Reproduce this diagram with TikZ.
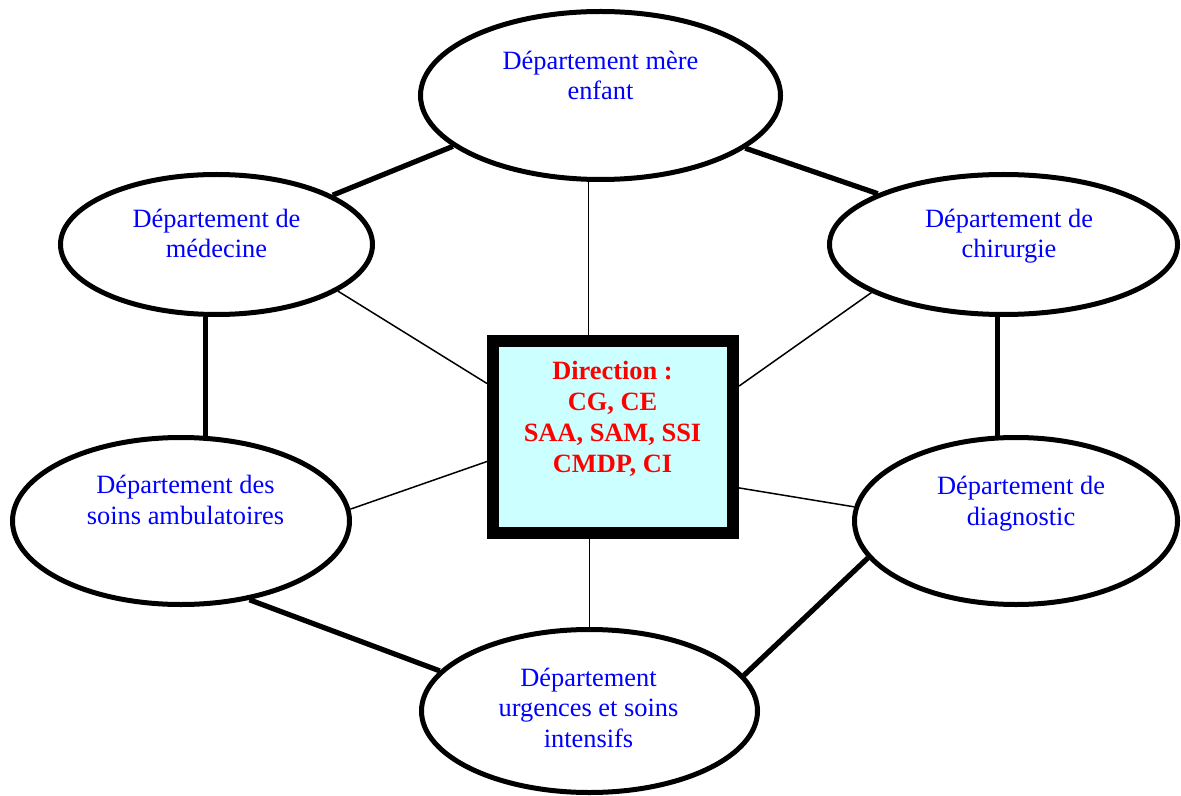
\documentclass[tikz,border=0pt]{standalone}
\usepackage{fontspec}
\setmainfont{Liberation Serif}
\usetikzlibrary{shapes.geometric}
\definecolor{boxfill}{HTML}{CCFFFF}
\definecolor{deptblue}{HTML}{0000FF}
\definecolor{dirred}{HTML}{FF0000}
\begin{document}
\begin{tikzpicture}[x=0.5pt,y=-0.5pt,
  dept/.style={ellipse,draw,line width=2.5pt,inner sep=0pt},
  depttext/.style={align=center,anchor=base,text=deptblue,inner sep=0pt,
    font=\fontsize{13.2}{15.2}\selectfont},
  dirbox/.style={rectangle,draw,line width=6pt,fill=boxfill,inner sep=0pt,
    minimum width=120pt,minimum height=96pt},
  dirtext/.style={align=center,anchor=base,text=dirred,inner sep=0pt,
    font=\fontsize{13.2}{15.35}\selectfont\bfseries},
  thickline/.style={line width=2.6pt},
  thinline/.style={line width=0.75pt}]
\useasboundingbox (0,0) rectangle (1181,796);

% departments
\node[dept,minimum width=180pt,minimum height=84pt]    (mere) at (600.5,95.5) {};
\node[dept,minimum width=156pt,minimum height=70pt]    (med)  at (216.5,244.5) {};
\node[dept,minimum width=174pt,minimum height=70pt]    (chir) at (1003.5,244.5) {};
\node[dept,minimum width=168.5pt,minimum height=83.5pt] (amb) at (181,521) {};
\node[dept,minimum width=161.5pt,minimum height=83.5pt] (diag) at (1016,521) {};
\node[dept,minimum width=168pt,minimum height=81.5pt]  (urg)  at (589.5,711) {};

% labels, placed by the baseline of their last line
\node[depttext] (tmere) at (600.5,100) {Département mère\\enfant};
\node[depttext] (tmed)  at (216.5,258) {Département de\\médecine};
\node[depttext] (tchir) at (1009,258)  {Département de\\chirurgie};
\node[depttext] (tamb)  at (185.5,524) {Département des\\soins ambulatoires};
\node[depttext] (tdiag) at (1021,525)  {Département de\\diagnostic};
\node[depttext] (turg)  at (588.5,747) {Département\\urgences et soins\\intensifs};

% direction
\node[dirbox] (dir) at (613,437) {};
\node[dirtext] (tdir) at (612.5,472) {Direction :\\CG, CE\\SAA, SAM, SSI\\CMDP, CI};

% links between neighbouring departments
\draw[thickline] (med.23.6) -- (mere.199.3);
\draw[thickline] (mere.340.8) -- (chir.158.8);
\draw[thickline] (amb.74) -- (amb.74 |- med.south);
\draw[thickline] (diag.102.8) -- (diag.102.8 |- chir.south);
\draw[thickline] (amb.311.3) -- (urg.165.1);
\draw[thickline] (diag.194.8) -- (urg.13.9);

% links to the direction
\draw[thinline] (mere.262.2) -- (mere.262.2 |- dir.north);
\draw[thinline] (med.339.6) -- (dir.157.4);
\draw[thinline] (chir.200.2) -- (dir.22.6);
\draw[thinline] (amb.4.7) -- (dir.191.75);
\draw[thinline] (dir.338.2) -- (diag.175.5);
\draw[thinline] (urg.north) -- (urg.north |- dir.south);
\end{tikzpicture}
\end{document}
